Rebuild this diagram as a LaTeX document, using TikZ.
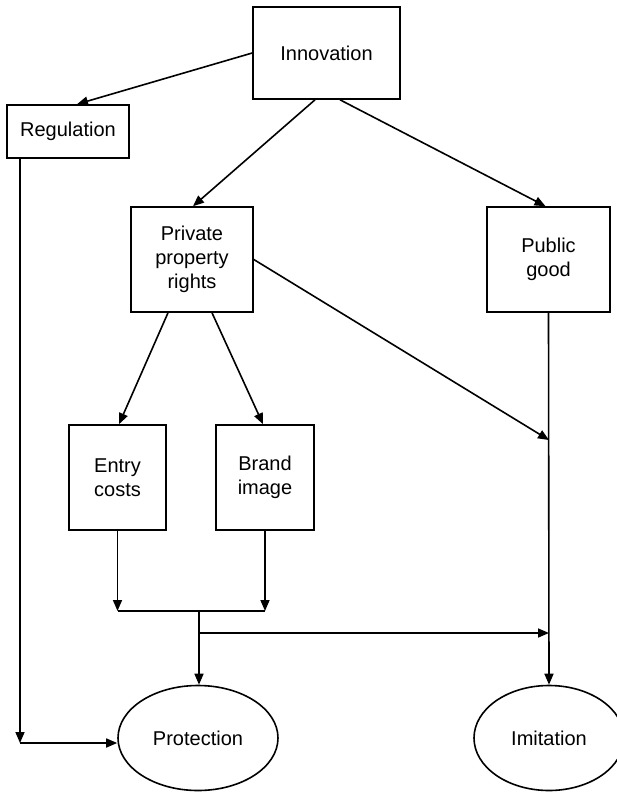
\documentclass[tikz,border=0pt]{standalone}
\usepackage{fontspec}
\setmainfont{Liberation Sans}
\usetikzlibrary{arrows.meta,shapes.geometric}
\begin{document}
\begin{tikzpicture}[x=1pt,y=-1pt,
  lbl/.style={font=\fontsize{20}{24}\selectfont,align=center},
  box/.style={lbl,draw,line width=1.6pt,rectangle,inner sep=0pt},
  oval/.style={lbl,draw,line width=1.6pt,ellipse,inner sep=0pt,
    minimum width=160pt,minimum height=105pt},
  link/.style={line width=1.6pt},
  arr/.style={link,-{Triangle[length=11pt,width=9pt]}}]
\useasboundingbox (0,0) rectangle (616,792);

% boxes
\node[box,minimum width=147pt,minimum height=92pt]  (inno)  at (326.5,53)    {Innovation};
\node[box,minimum width=122pt,minimum height=53pt]  (reg)   at (68,131.5)    {Regulation};
\node[box,minimum width=122pt,minimum height=105pt] (priv)  at (192,259.5)   {Private\\property\\rights};
\node[box,minimum width=123pt,minimum height=105pt] (pub)   at (548.5,259.5) {Public\\good};
\node[box,minimum width=97pt,minimum height=105pt]  (entry) at (117.5,477.5) {Entry\\costs};
\node[box,minimum width=98pt,minimum height=105pt]  (brand) at (265,477.5)   {Brand\\image};

% outcomes
\node[oval] (prot) at (198,738) {Protection};
\node[oval,minimum width=150pt] (imit) at (549,738) {Imitation};

% junction points
\coordinate (cr)  at (20,743);
\coordinate (ja)  at (117.5,611);
\coordinate (jb)  at (265,611);
\coordinate (jm)  at (199,611);
\coordinate (jh)  at (199,633);
\coordinate (j1)  at (549,440);
\coordinate (j2)  at (549,633);

% from innovation
\draw[arr] (inno.west) -- ([xshift=9pt]reg.north);
\draw[arr] ([xshift=-11.5pt]inno.south) -- ([xshift=1pt]priv.north);
\draw[arr] ([xshift=13.5pt]inno.south) -- ([xshift=-3pt]pub.north);

% from private property rights
\draw[arr] ([xshift=-24pt]priv.south) -- ([xshift=1.5pt]entry.north);
\draw[arr] ([xshift=20pt]priv.south) -- ([xshift=-2pt]brand.north);
\draw[arr] (priv.east) -- (j1);

% public good to imitation
\draw[arr] (pub.south) -- (imit.north);

% regulation to protection
\draw[arr] (reg.south -| cr) -- (cr);
\draw[arr] (cr) -- (cr -| prot.west);

% entry costs and brand image merge
\draw[arr] (entry.south) -- (ja);
\draw[arr] (brand.south) -- (jb);
\draw[link] (ja) -- (jb);
\draw[arr] (jm) -- (jm |- prot.north);
\draw[arr] (jh) -- (j2);
\end{tikzpicture}
\end{document}
